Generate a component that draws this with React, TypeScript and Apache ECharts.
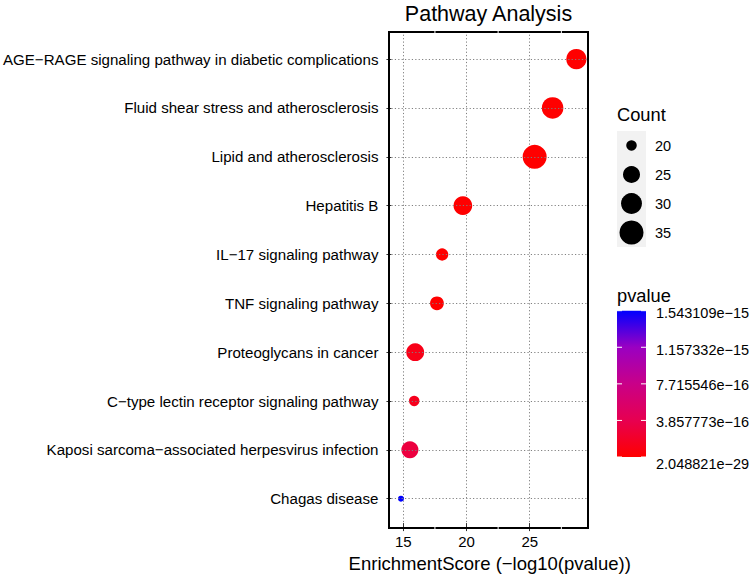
import React, { useEffect, useRef } from 'react';
import * as echarts from 'echarts';

const categories = [
  'AGE−RAGE signaling pathway in diabetic complications',
  'Fluid shear stress and atherosclerosis',
  'Lipid and atherosclerosis',
  'Hepatitis B',
  'IL−17 signaling pathway',
  'TNF signaling pathway',
  'Proteoglycans in cancer',
  'C−type lectin receptor signaling pathway',
  'Kaposi sarcoma−associated herpesvirus infection',
  'Chagas disease',
];
const enrichmentScore = [28.69, 26.81, 25.39, 19.71, 18.07, 17.66, 15.94, 15.86, 15.52, 14.81];
const counts = [29, 31, 35, 27, 21, 22, 26, 20, 25, 19];
const pvalues = [2.048821e-29, 1.55e-27, 4.07e-26, 1.95e-20, 8.5e-19, 2.19e-18, 1.15e-16, 1.38e-16, 3.02e-16, 1.543109e-15];

const xTicks = [15, 20, 25];
const xMinorTicks = [17.5, 22.5, 27.5];
const countBreaks = [20, 25, 30, 35];
const pvalueBreaks = [1.543109e-15, 1.157332e-15, 7.715546e-16, 3.857773e-16, 2.048821e-29];
const pvalueLabels = ['1.543109e−15', '1.157332e−15', '7.715546e−16', '3.857773e−16', '2.048821e−29'];

const FONT = '"Liberation Sans", Arial, Helvetica, sans-serif';
const COUNT_MIN = 19;
const COUNT_MAX = 35;
const P_MIN = 2.048821e-29;
const P_MAX = 1.543109e-15;
const X_MIN = 14.06;
const X_MAX = 29.61;
const colorStops = ['#FF0000', '#E70050', '#C90088', '#9A00C2', '#0000FF'];

const sizeOf = (c: number) => 6 + 18 * Math.sqrt(Math.max(0, (c - COUNT_MIN) / (COUNT_MAX - COUNT_MIN)));

// layout
const PANEL = { left: 389, top: 32, right: 588, bottom: 528 };
const GRID = { left: 389, right: 754 - 588, top: 34.7, bottom: 578 - 525.6 };
const LEG_X = 617;
const KEY_W = 29;
const COUNT_KEY_TOP = 131;
const COUNT_KEY_H = 29;
const BAR_TOP = 310.7;
const BAR_BOTTOM = 457;
const PV_LABEL_Y = [312.5, 349.5, 385, 421.7, 463.5];

export default function App() {
  const ref = useRef<HTMLDivElement>(null);
  useEffect(() => {
    if (!ref.current) return;
    const chart = echarts.init(ref.current, undefined, { renderer: 'svg' });

    const baseGraphic: any[] = [];
    // title
    baseGraphic.push({
      type: 'text', x: (PANEL.left + PANEL.right) / 2, y: 14, z: 10,
      style: { text: 'Pathway Analysis', align: 'center', verticalAlign: 'middle', fontFamily: FONT, fontSize: 21.5, fill: '#000' },
    });
    // panel border
    baseGraphic.push({
      type: 'rect', z: 10, silent: true,
      shape: { x: PANEL.left, y: PANEL.top, width: PANEL.right - PANEL.left, height: PANEL.bottom - PANEL.top },
      style: { fill: 'none', stroke: '#000', lineWidth: 2 },
    });
    // Count legend
    baseGraphic.push({
      type: 'text', x: LEG_X, y: 114,
      style: { text: 'Count', align: 'left', verticalAlign: 'middle', fontFamily: FONT, fontSize: 18.3, fill: '#000' },
    });
    baseGraphic.push({
      type: 'rect', shape: { x: LEG_X, y: COUNT_KEY_TOP, width: KEY_W, height: COUNT_KEY_H * countBreaks.length },
      style: { fill: '#F2F2F2' },
    });
    countBreaks.forEach((c, i) => {
      const cy = COUNT_KEY_TOP + COUNT_KEY_H * (i + 0.5);
      baseGraphic.push({
        type: 'circle', shape: { cx: LEG_X + KEY_W / 2, cy, r: sizeOf(c) / 2 }, style: { fill: '#000' },
      });
      baseGraphic.push({
        type: 'text', x: 655, y: cy,
        style: { text: String(c), align: 'left', verticalAlign: 'middle', fontFamily: FONT, fontSize: 14.5, fill: '#000' },
      });
    });
    // pvalue colorbar
    baseGraphic.push({
      type: 'text', x: LEG_X, y: 295,
      style: { text: 'pvalue', align: 'left', verticalAlign: 'middle', fontFamily: FONT, fontSize: 18.3, fill: '#000' },
    });
    baseGraphic.push({
      type: 'rect', shape: { x: LEG_X, y: BAR_TOP, width: KEY_W, height: BAR_BOTTOM - BAR_TOP },
      style: {
        fill: new echarts.graphic.LinearGradient(0, 0, 0, 1, [
          { offset: 0, color: colorStops[4] },
          { offset: 0.25, color: colorStops[3] },
          { offset: 0.5, color: colorStops[2] },
          { offset: 0.75, color: colorStops[1] },
          { offset: 1, color: colorStops[0] },
        ]),
      },
    });
    pvalueBreaks.forEach((v, i) => {
      const ty = BAR_BOTTOM - ((v - P_MIN) / (P_MAX - P_MIN)) * (BAR_BOTTOM - BAR_TOP);
      baseGraphic.push({
        type: 'line', shape: { x1: LEG_X, y1: ty, x2: LEG_X + 5, y2: ty }, style: { stroke: '#fff', lineWidth: 1 },
      });
      baseGraphic.push({
        type: 'line', shape: { x1: LEG_X + KEY_W - 5, y1: ty, x2: LEG_X + KEY_W, y2: ty }, style: { stroke: '#fff', lineWidth: 1 },
      });
      baseGraphic.push({
        type: 'text', x: 656, y: PV_LABEL_Y[i],
        style: { text: pvalueLabels[i], align: 'left', verticalAlign: 'middle', fontFamily: FONT, fontSize: 14.5, fill: '#000' },
      });
    });

    const option: any = {
      animation: false,
      backgroundColor: '#fff',
      grid: { left: GRID.left, right: GRID.right, top: GRID.top, bottom: GRID.bottom, containLabel: false },
      xAxis: {
        type: 'value', min: X_MIN, max: X_MAX,
        name: 'EnrichmentScore (−log10(pvalue))', nameLocation: 'middle', nameGap: 27,
        nameTextStyle: { fontFamily: FONT, fontSize: 18.5, color: '#000' },
        axisLine: { show: false },
        axisTick: { show: true, length: 8, customValues: xTicks, lineStyle: { color: '#333', width: 1 } },
        axisLabel: { customValues: xTicks, fontFamily: FONT, fontSize: 15, color: '#000', margin: 11 },
        splitLine: { show: true, lineStyle: { color: '#808080', width: 1, type: [1.2, 2.2] } },
      },
      yAxis: {
        type: 'category', data: categories, inverse: true, boundaryGap: true,
        axisLine: { show: false },
        axisTick: { show: true, alignWithLabel: true, length: 5, lineStyle: { color: '#333', width: 1 } },
        axisLabel: { fontFamily: FONT, fontSize: 15.1, color: '#000', margin: 13 },
        splitLine: { show: false },
      },
      visualMap: {
        show: false, type: 'continuous', dimension: 3, seriesIndex: 1,
        min: P_MIN, max: P_MAX, inRange: { color: colorStops },
      },
      series: [
        {
          type: 'scatter', z: 1, silent: true, data: [],
          markLine: {
            silent: true, symbol: ['none', 'none'], animation: false,
            label: { show: false },
            lineStyle: { color: '#808080', width: 1, type: [1.2, 2.2] },
            emphasis: { disabled: true },
            data: categories.map((c) => ({ yAxis: c })),
          },
        },
        {
          type: 'scatter', z: 3,
          data: categories.map((c, i) => [enrichmentScore[i], c, counts[i], pvalues[i]]),
          symbol: 'circle',
          symbolSize: (v: any) => sizeOf(v[2]),
          itemStyle: { opacity: 1 },
        },
      ],
      graphic: baseGraphic,
    };
    chart.setOption(option);

    // white minor grid breaks on top/bottom border
    const extra: any[] = [];
    xMinorTicks.forEach((v) => {
      const px = chart.convertToPixel({ xAxisIndex: 0 }, v) as number;
      extra.push({ type: 'line', z: 11, shape: { x1: px, y1: PANEL.top - 1.5, x2: px, y2: PANEL.top + 1.5 }, style: { stroke: '#fff', lineWidth: 1 } });
      extra.push({ type: 'line', z: 11, shape: { x1: px, y1: PANEL.bottom - 1.5, x2: px, y2: PANEL.bottom + 1.5 }, style: { stroke: '#fff', lineWidth: 1 } });
    });
    chart.setOption({ graphic: baseGraphic.concat(extra) });

    return () => chart.dispose();
  }, []);
  return <div ref={ref} style={{ position: 'fixed', left: 0, top: 0, width: 754, height: 578 }} />;
}
